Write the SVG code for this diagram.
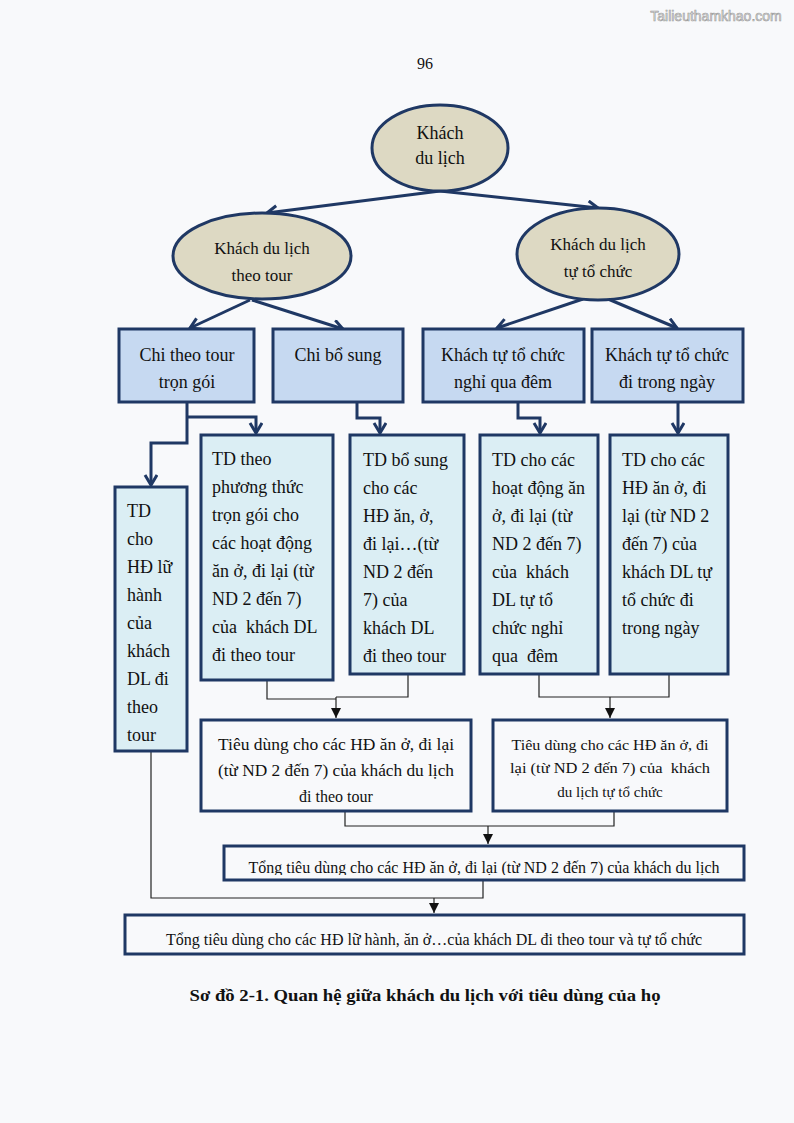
<svg xmlns="http://www.w3.org/2000/svg" width="794" height="1123" viewBox="0 0 794 1123">
<style>
text{font-family:"Liberation Serif","Times New Roman",serif;fill:#111;white-space:pre}
.ell{fill:#ddd9c3;stroke:#1f3864;stroke-width:3}
.b2{fill:#c6d9f1;stroke:#1f3864;stroke-width:3}
.b3{fill:#dbeef4;stroke:#1f3864;stroke-width:3}
.b4{fill:#f8f9fb;stroke:#1f3864;stroke-width:3}
.nv{fill:none;stroke:#1f3864;stroke-width:3}
.th{fill:none;stroke:#222;stroke-width:1.2}
.c{text-anchor:middle}
.f18{font-size:18px}
.f17{font-size:17px}
.f16{font-size:16px}
.f15{font-size:15px}
</style>
<defs>
<marker id="va" markerUnits="userSpaceOnUse" markerWidth="16" markerHeight="16" refX="12" refY="7" orient="auto">
<path d="M2,1 L12,7 L2,13" fill="none" stroke="#1f3864" stroke-width="3"/>
</marker>
<marker id="ta" markerUnits="userSpaceOnUse" markerWidth="12" markerHeight="12" refX="10" refY="5" orient="auto">
<path d="M0,0 L10,5 L0,10 Z" fill="#111"/>
</marker>
<clipPath id="tclip"><rect x="225" y="847" width="519" height="28"/></clipPath>
</defs>
<rect x="0" y="0" width="794" height="1123" fill="#f8f9fb"/>
<text x="716" y="21" class="c" style="font-family:'Liberation Sans',Arial,sans-serif;font-size:14px;fill:#e8e8e8;stroke:#999;stroke-width:0.6">Tailieuthamkhao.com</text>
<text x="425" y="69" class="c f16">96</text>

<g id="connectors">
<path class="nv" d="M440,191 L267,213" marker-end="url(#va)"/>
<path class="nv" d="M440,191 L598,208" marker-end="url(#va)"/>
<path class="nv" d="M250,300 L190,328" marker-end="url(#va)"/>
<path class="nv" d="M252,300 L343,329" marker-end="url(#va)"/>
<path class="nv" d="M583,299 L497,328" marker-end="url(#va)"/>
<path class="nv" d="M608,299 L677,328" marker-end="url(#va)"/>
<path class="nv" d="M187,402 V443 H151 V485" marker-end="url(#va)"/>
<path class="nv" d="M187,417 H256 V433" marker-end="url(#va)"/>
<path class="nv" d="M357,402 V418 H380 V433" marker-end="url(#va)"/>
<path class="nv" d="M518,402 V418 H540 V433" marker-end="url(#va)"/>
<path class="nv" d="M678,402 V433" marker-end="url(#va)"/>
<path class="th" d="M267,680 V699 H336"/>
<path class="th" d="M408,674 V697 H336"/>
<path class="th" d="M336,697 V718" marker-end="url(#ta)"/>
<path class="th" d="M539,674 V697 H669 V674"/>
<path class="th" d="M610,697 V718" marker-end="url(#ta)"/>
<path class="th" d="M345,812 V826 H614 V805"/>
<path class="th" d="M488,826 V844" marker-end="url(#ta)"/>
<path class="th" d="M483,881 V898 H151 V752"/>
<path class="th" d="M434,898 V913" marker-end="url(#ta)"/>
</g>

<g id="n-khach">
<ellipse class="ell" cx="440" cy="148" rx="68" ry="43"/>
<text class="c f18" x="440" y="139">Khách</text>
<text class="c f18" x="440" y="164">du lịch</text>
</g>
<g id="n-theotour">
<ellipse class="ell" cx="262" cy="256" rx="89" ry="43"/>
<text class="c f17" x="262" y="254">Khách du lịch</text>
<text class="c f17" x="262" y="281">theo tour</text>
</g>
<g id="n-tutochuc">
<ellipse class="ell" cx="598" cy="254" rx="81" ry="46"/>
<text class="c f17" x="598" y="250">Khách du lịch</text>
<text class="c f17" x="598" y="277">tự tổ chức</text>
</g>

<g id="n-chitrongoi">
<rect class="b2" x="119" y="329" width="135" height="73"/>
<text class="c f18" x="187" y="361">Chi theo tour</text>
<text class="c f18" x="187" y="388">trọn gói</text>
</g>
<g id="n-chibosung">
<rect class="b2" x="273" y="329" width="130" height="73"/>
<text class="c f18" x="338" y="361">Chi bổ sung</text>
</g>
<g id="n-quadem">
<rect class="b2" x="423" y="329" width="161" height="73"/>
<text class="c f18" x="503" y="361">Khách tự tổ chức</text>
<text class="c f18" x="503" y="388">nghỉ qua đêm</text>
</g>
<g id="n-trongngay">
<rect class="b2" x="592" y="329" width="151" height="73"/>
<text class="c f18" x="667" y="361">Khách tự tổ chức</text>
<text class="c f18" x="667" y="388">đi trong ngày</text>
</g>

<g id="n-luhanh">
<rect class="b3" x="115" y="487" width="72" height="264"/>
<g class="f18">
<text x="127" y="517">TD</text>
<text x="127" y="545">cho</text>
<text x="127" y="573">HĐ lữ</text>
<text x="127" y="601">hành</text>
<text x="127" y="629">của</text>
<text x="127" y="657">khách</text>
<text x="127" y="685">DL đi</text>
<text x="127" y="713">theo</text>
<text x="127" y="741">tour</text>
</g>
</g>
<g id="n-trongoi">
<rect class="b3" x="201" y="435" width="132" height="245"/>
<g class="f18">
<text x="212" y="465">TD theo</text>
<text x="212" y="493">phương thức</text>
<text x="212" y="521">trọn gói cho</text>
<text x="212" y="549">các hoạt động</text>
<text x="212" y="577">ăn ở, đi lại (từ</text>
<text x="212" y="605">ND 2 đến 7)</text>
<text x="212" y="633">của  khách DL</text>
<text x="212" y="661">đi theo tour</text>
</g>
</g>
<g id="n-tdbosung">
<rect class="b3" x="350" y="435" width="114" height="239"/>
<g class="f18">
<text x="363" y="466">TD bổ sung</text>
<text x="363" y="494">cho các</text>
<text x="363" y="522">HĐ ăn, ở,</text>
<text x="363" y="550">đi lại…(từ</text>
<text x="363" y="578">ND 2 đến</text>
<text x="363" y="606">7) của</text>
<text x="363" y="634">khách DL</text>
<text x="363" y="662">đi theo tour</text>
</g>
</g>
<g id="n-tdquadem">
<rect class="b3" x="480" y="435" width="118" height="239"/>
<g class="f18">
<text x="492" y="466">TD cho các</text>
<text x="492" y="494">hoạt động ăn</text>
<text x="492" y="522">ở, đi lại (từ</text>
<text x="492" y="550">ND 2 đến 7)</text>
<text x="492" y="578">của  khách</text>
<text x="492" y="606">DL tự tổ</text>
<text x="492" y="634">chức nghỉ</text>
<text x="492" y="662">qua  đêm</text>
</g>
</g>
<g id="n-tdtrongngay">
<rect class="b3" x="610" y="435" width="118" height="239"/>
<g class="f18">
<text x="622" y="466">TD cho các</text>
<text x="622" y="494">HĐ ăn ở, đi</text>
<text x="622" y="522">lại (từ ND 2</text>
<text x="622" y="550">đến 7) của</text>
<text x="622" y="578">khách DL tự</text>
<text x="622" y="606">tổ chức đi</text>
<text x="622" y="634">trong ngày</text>
</g>
</g>

<g id="n-tdtour">
<rect class="b4" x="201" y="720" width="270" height="91"/>
<text class="c f16" x="336" y="750" textLength="236" lengthAdjust="spacingAndGlyphs">Tiêu dùng cho các HĐ ăn ở, đi lại</text>
<text class="c f16" x="336" y="776" textLength="236" lengthAdjust="spacingAndGlyphs">(từ ND 2 đến 7) của khách du lịch</text>
<text class="c f16" x="336" y="802">đi theo tour</text>
</g>
<g id="n-tdtutochuc">
<rect class="b4" x="493" y="720" width="234" height="91"/>
<text class="c f15" x="610" y="750" textLength="197" lengthAdjust="spacingAndGlyphs">Tiêu dùng cho các HĐ ăn ở, đi</text>
<text class="c f15" x="610" y="773" textLength="200" lengthAdjust="spacingAndGlyphs">lại (từ ND 2 đến 7) của  khách</text>
<text class="c f15" x="610" y="797">du lịch tự tổ chức</text>
</g>
<g id="n-tongandi">
<rect class="b4" x="224" y="846" width="520" height="34"/>
<text class="c f16" x="484" y="873" clip-path="url(#tclip)" textLength="471" lengthAdjust="spacingAndGlyphs">Tổng tiêu dùng cho các HĐ ăn ở, đi lại (từ ND 2 đến 7) của khách du lịch</text>
</g>
<g id="n-tong">
<rect class="b4" x="125" y="915" width="619" height="39"/>
<text class="c f16" x="434" y="945" textLength="536" lengthAdjust="spacingAndGlyphs">Tổng tiêu dùng cho các HĐ lữ hành, ăn ở…của khách DL đi theo tour và tự tổ chức</text>
</g>

<text class="c" x="425" y="1001" style="font-size:17.5px;font-weight:bold" textLength="471" lengthAdjust="spacingAndGlyphs">Sơ đồ 2-1. Quan hệ giữa khách du lịch với tiêu dùng của họ</text>
</svg>
